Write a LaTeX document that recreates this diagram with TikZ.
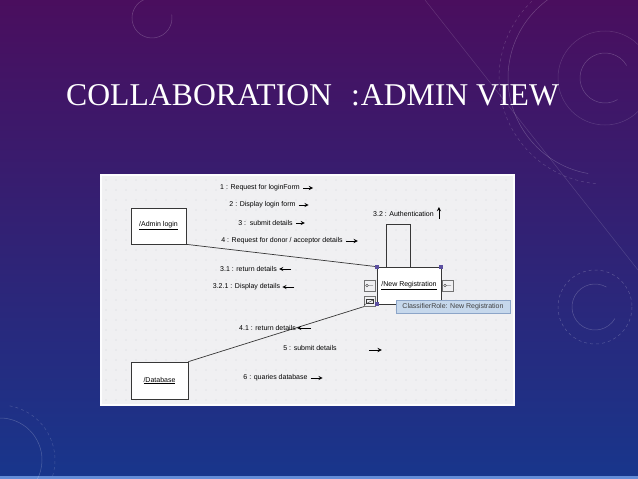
\documentclass[tikz,border=0pt]{standalone}
\usepackage{fontspec}
\setmainfont{Liberation Serif}
\newfontfamily\umlfont{Liberation Sans}
\usetikzlibrary{arrows,positioning}

\definecolor{slidetop}{RGB}{74,14,94}
\definecolor{slidemid}{RGB}{58,28,114}
\definecolor{slidebot}{RGB}{24,54,140}
\definecolor{slidestrip}{RGB}{100,140,215}
\definecolor{panelbg}{RGB}{240,240,242}
\definecolor{griddot}{RGB}{208,210,220}
\definecolor{umlline}{RGB}{55,55,55}
\definecolor{handle}{RGB}{92,80,160}
\definecolor{tipfill}{RGB}{198,216,236}
\definecolor{tipline}{RGB}{140,165,200}

\tikzset{
  umlbox/.style={draw=umlline, fill=white, line width=0.7pt, inner sep=0pt,
    font=\umlfont\fontsize{7}{8}\selectfont},
  port/.style={draw=umlline!70, fill=panelbg, line width=0.5pt, minimum width=11pt,
    minimum height=11pt, inner sep=0pt},
  msglabel/.style={font=\umlfont\fontsize{7}{8}\selectfont, text=black, inner sep=0pt},
  msg/.style={->, >=stealth, line width=0.9pt},
  ring/.style={white, opacity=0.22, line width=0.5pt}
}

\begin{document}
\begin{tikzpicture}[x=1pt, y=-1pt]

    \useasboundingbox (0,0) rectangle (638,479);

    % background of the slide
    \shade[top color=slidetop, middle color=slidemid, bottom color=slidebot] (0,0) rectangle (638,479);
    \fill[slidestrip] (0,476) rectangle (638,479);

    \draw[ring] (152,18) ++(-10:20) arc (-10:250:20);
    \draw[ring] (605,78) ++(60:25) arc (60:330:25);
    \draw[ring, opacity=0.15] (605,78) circle (47);
    \draw[ring] (605,78) ++(100:97) arc (100:275:97);
    \draw[ring, dashed, opacity=0.18] (605,78) ++(95:106) arc (95:280:106);
    \draw[ring, opacity=0.15] (425,0) -- (638,270);
    \draw[ring] (595,307) ++(30:23) arc (30:300:23);
    \draw[ring, dashed] (595,307) circle (37);
    \draw[ring] (0,460) ++(-90:42) arc (-90:60:42);
    \draw[ring, dashed, opacity=0.18] (0,460) ++(-80:55) arc (-80:70:55);

    % title
    \node[anchor=base west, text=white, inner sep=0pt, font=\fontsize{31.7}{34}\selectfont]
        (title) at (66,105) {COLLABORATION\hspace{19pt}:\hspace{1pt}ADMIN VIEW};

    % screenshot panel
    \fill[panelbg] (101,175) rectangle (514,405);
    \draw[white!90!panelbg, line width=1.2pt] (101,175) rectangle (514,405);
    \foreach \x in {106,116,...,506}
        \foreach \y in {180,190,...,400}
            \fill[griddot] (\x,\y) circle (0.7);

    % objects
    \node[umlbox, minimum width=55pt, minimum height=36pt] (admin) at (158.5,226) {\underline{/Admin login}};
    \node[umlbox, minimum width=57pt, minimum height=37pt] (db) at (159.5,380.5) {\underline{/Database}};
    \node[umlbox, minimum width=64pt, minimum height=37pt] (newreg) at (409,285.5) {\underline{/New Registration}};

    % links
    \draw[umlline, line width=0.7pt] (admin.south east) -- (newreg.north west);
    \draw[umlline, line width=0.7pt] (db.north east) -- (369,305);
    \draw[umlline, line width=0.7pt] ([xshift=-22.5pt]newreg.north) |- ([xshift=1.5pt,yshift=42pt]newreg.north) -- ([xshift=1.5pt]newreg.north);

    % ports
    \node[port] (portA) at (369.5,285.5) {};
    \node[port] (portB) at (447.5,285.5) {};
    \node[port, minimum height=10pt] (portC) at (369.5,301) {};
    \draw[umlline, line width=0.4pt] ([xshift=-2.5pt]portA.center) circle (1.3) ++(1.3,0) -- ([xshift=3.5pt]portA.center);
    \draw[umlline, line width=0.4pt] ([xshift=-2.5pt]portB.center) circle (1.3) ++(1.3,0) -- ([xshift=3.5pt]portB.center);
    \draw[umlline, line width=0.4pt] ([xshift=-3.5pt,yshift=-2.5pt]portC.center) rectangle ([xshift=3.5pt,yshift=2pt]portC.center);
    \draw[umlline, line width=0.4pt] ([xshift=-5.5pt,yshift=-4pt]portC.center) -- ([xshift=3.5pt,yshift=1pt]portC.center);

    % selection handles
    \foreach \c in {north west, north east, south west}
        \fill[handle] (newreg.\c) ++(-2,-2) rectangle ++(4,4);

    % tooltip
    \node[draw=tipline, fill=tipfill, line width=0.5pt, minimum width=114pt, minimum height=13pt,
        inner sep=0pt, font=\umlfont\fontsize{7}{8}\selectfont, text=black!75] (tip) at (453,306.5)
        {ClassifierRole: New Registration};

    % messages
    \node[msglabel] (m1) at (260,188) {1 : Request for loginForm};
    \node[msglabel] (m2) at (262.5,205) {2 : Display login form};
    \node[msglabel] (m3) at (265.5,223) {3 :\ \ submit details};
    \node[msglabel] (m4) at (282,241) {4 : Request for donor / acceptor details};
    \node[msglabel] (m31) at (248.5,269) {3.1 : return details};
    \node[msglabel] (m321) at (246.5,287) {3.2.1 : Display details};
    \node[msglabel] (m32) at (403.5,214) {3.2 : Authentication};
    \node[msglabel] (m41) at (267.5,328) {4.1 : return details};
    \node[msglabel] (m5) at (310,348) {5 : submit details};
    \node[msglabel] (m6) at (275.5,378) {6 : quaries database};

    \draw[msg] ([xshift=3pt]m1.east) -- ++(10,0);
    \draw[msg] ([xshift=3pt]m2.east) -- ++(10,0);
    \draw[msg] ([xshift=3pt]m3.east) -- ++(9,0);
    \draw[msg] ([xshift=3pt]m4.east) -- ++(12,0);
    \draw[msg] ([xshift=14pt]m31.east) -- ++(-12,0);
    \draw[msg] ([xshift=14pt]m321.east) -- ++(-12,0);
    \draw[msg] ([xshift=5pt,yshift=-5pt]m32.east) -- ++(0,-12);
    \draw[msg] ([xshift=15pt]m41.east) -- ++(-14,0);
    \draw[msg] ([xshift=32pt,yshift=-2pt]m5.east) -- ++(13,0);
    \draw[msg] ([xshift=3pt]m6.east) -- ++(12,0);

\end{tikzpicture}
\end{document}
